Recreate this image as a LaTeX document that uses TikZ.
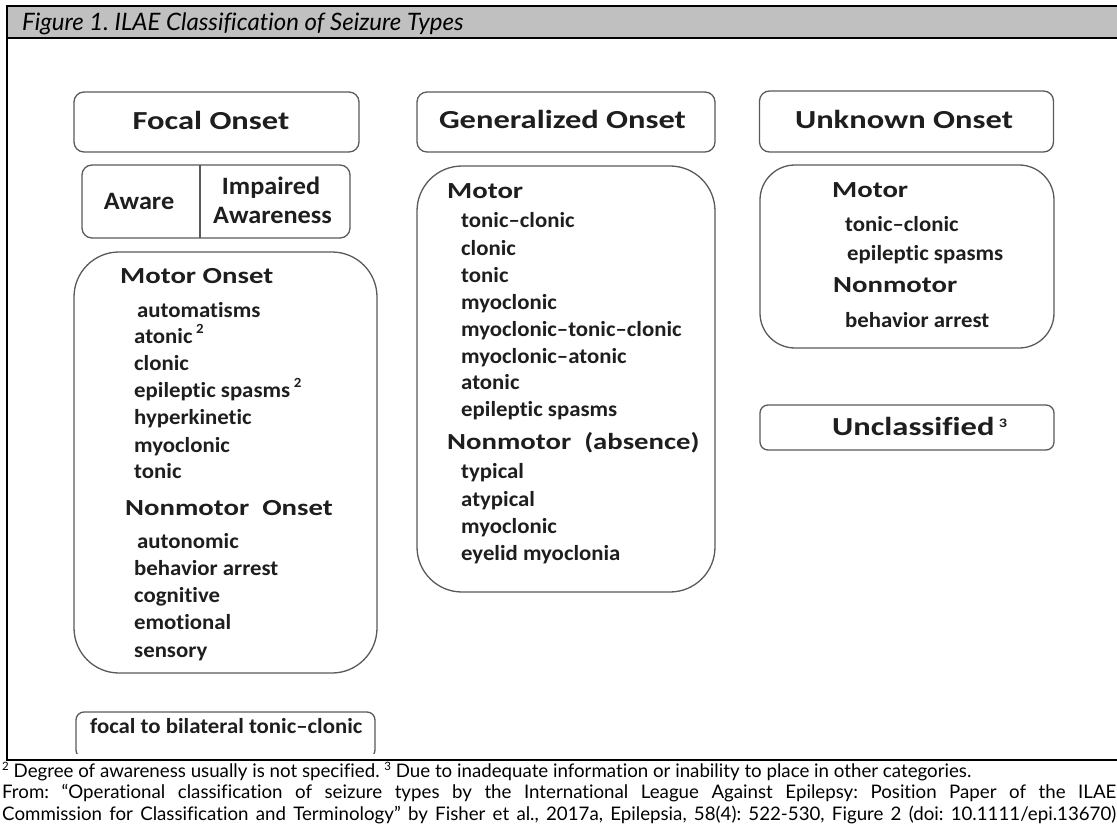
\documentclass[tikz,border=0pt]{standalone}
\usepackage{fontspec}
\setmainfont[Ligatures=NoCommon]{Lato}
\newfontfamily\hfont[FakeStretch=1.25,Ligatures=NoCommon]{Carlito}
\newfontfamily\ifont[FakeStretch=1.06,Ligatures=NoCommon]{Carlito}
\newfontfamily\afont[FakeStretch=1.05,Ligatures=NoCommon]{Carlito}
\definecolor{headgray}{HTML}{C0C0C0}
\definecolor{boxline}{HTML}{5A5A5A}
\definecolor{txt}{HTML}{1E1E1E}
\tikzset{
  box/.style={draw=boxline, line width=1.3pt, fill=white, inner sep=0pt},
  hdr/.style={anchor=base, inner sep=0pt, text=txt, font=\hfont\bfseries\fontsize{26}{30}\selectfont},
  sub/.style={anchor=base west, inner sep=0pt, text=txt, font=\hfont\bfseries\fontsize{23}{27}\selectfont},
  itm/.style={anchor=base west, inner sep=0pt, text=txt, font=\ifont\bfseries\fontsize{21.5}{25}\selectfont},
  aw/.style={anchor=base, inner sep=0pt, text=txt, font=\afont\bfseries\fontsize{25}{29}\selectfont},
  foot/.style={anchor=base west, inner sep=0pt, font=\fontsize{18.7}{22}\selectfont},
  frame/.style={line width=2.5pt, black}
}
\newcommand{\sups}[1]{\raisebox{0.42em}{\fontsize{14}{14}\selectfont #1}}
\newcommand{\supt}[1]{\raisebox{0.3em}{\fontsize{13}{13}\selectfont #1}}
\newcommand{\supf}[1]{\raisebox{0.36em}{\fontsize{11.5}{11.5}\selectfont #1}}
\frenchspacing
\begin{document}
\begin{tikzpicture}[x=1pt,y=-1pt]
\useasboundingbox (0,0) rectangle (1117,832);
% frame
\fill[headgray] (7,6) rectangle (1117,38);
\draw[frame] (5.75,6) -- (1117,6);
\draw[frame] (7,38) -- (1117,38);
\draw[frame] (7,6) -- (7,761.25);
\draw[frame] (5.75,760) -- (1117,760);
\node[anchor=base west, inner sep=0pt, font=\itshape\fontsize{24}{28}\selectfont] (title) at (22,31) {Figure 1. ILAE Classification of Seizure Types};

% header boxes
\node[box, rounded corners=10pt, minimum width=285pt, minimum height=60pt] (focalH) at (216.5,122) {};
\node[box, rounded corners=10pt, minimum width=298pt, minimum height=60pt] (genH) at (566,122) {};
\node[box, rounded corners=10pt, minimum width=294pt, minimum height=61pt] (unkH) at (906.5,121.5) {};
\node[hdr] (focalT) at (211,130) {Focal Onset};
\node[hdr] (genT) at (562.5,129) {Generalized Onset};
\node[hdr] (unkT) at (904,129) {Unknown Onset};

% aware box
\node[box, rounded corners=10pt, minimum width=268pt, minimum height=73pt] (aware) at (216,201.5) {};
\coordinate (dtop) at (200,165);
\coordinate (dbot) at (200,238);
\draw[boxline, line width=1.6pt] (dtop) -- (dbot);
\node[aw] (awT) at (139,209) {Aware};
\node[aw] (impT) at (271,194) {Impaired};
\node[aw] (awnT) at (272.5,223) {Awareness};

% focal content
\node[box, rounded corners=45pt, minimum width=303pt, minimum height=421pt] (focalC) at (225.5,462.5) {};
\node[sub] (fm) at (120,283) {Motor Onset};
\node[itm] (f1) at (137,317) {automatisms};
\node[itm] (f2) at (134,343) {atonic\,\sups{2}};
\node[itm] (f3) at (134,370) {clonic};
\node[itm] (f4) at (134,397) {epileptic spasms\,\sups{2}};
\node[itm] (f5) at (134,424) {hyperkinetic};
\node[itm] (f6) at (134,452) {myoclonic};
\node[itm] (f7) at (134,478) {tonic};
\node[sub] (fn) at (125,515) {Nonmotor\ \ Onset};
\node[itm] (f8) at (137,548) {autonomic};
\node[itm] (f9) at (134,575) {behavior arrest};
\node[itm] (f10) at (134,602) {cognitive};
\node[itm] (f11) at (134,629) {emotional};
\node[itm] (f12) at (134,657) {sensory};

% generalized content
\node[box, rounded corners=45pt, minimum width=298pt, minimum height=426pt] (genC) at (566,379) {};
\node[sub] (gm) at (447,199) {Motor};
\node[itm] (g1) at (461,227) {tonic–clonic};
\node[itm] (g2) at (461,255) {clonic};
\node[itm] (g3) at (461,282) {tonic};
\node[itm] (g4) at (461,309) {myoclonic};
\node[itm] (g5) at (461,336) {myoclonic–tonic–clonic};
\node[itm] (g6) at (461,363) {myoclonic–atonic};
\node[itm] (g7) at (461,389) {atonic};
\node[itm] (g8) at (461,416) {epileptic spasms};
\node[sub] (gn) at (447,449) {Nonmotor\ \ (absence)};
\node[itm] (g9) at (461,478) {typical};
\node[itm] (g10) at (461,506) {atypical};
\node[itm] (g11) at (461,533) {myoclonic};
\node[itm] (g12) at (461,560) {eyelid myoclonia};

% unknown content
\node[box, rounded corners=35pt, minimum width=294pt, minimum height=183pt] (unkC) at (907,256.5) {};
\node[sub] (um) at (832,197) {Motor};
\node[itm] (u1) at (845,231) {tonic–clonic};
\node[itm] (u2) at (847,260) {epileptic spasms};
\node[sub] (un) at (833,292) {Nonmotor};
\node[itm] (u3) at (845,327) {behavior arrest};

% unclassified
\node[box, rounded corners=8pt, minimum width=294pt, minimum height=45pt] (uncl) at (907,427.5) {};
\node[hdr, anchor=base west] (unclT) at (832,435) {Unclassified\,\supt{3}};

% focal to bilateral
\begin{scope}
\clip (0,0) rectangle (1117,753);
\node[box, rounded corners=8pt, minimum width=299pt, minimum height=46pt] (fbtc) at (225.5,735) {};
\end{scope}
\node[itm] (fbtcT) at (90,733) {focal to bilateral tonic–clonic};

% footer
\node[foot] (n1) at (2,777) {\supf{2} Degree of awareness usually is not specified. \supf{3} Due to inadequate information or inability to place in other categories.};
\node[foot] (n2) at (2,798.5) {\makebox[1114pt][s]{From: “Operational classification of seizure types by the International League Against Epilepsy: Position Paper of the ILAE}};
\node[foot] (n3) at (2,820) {\makebox[1114pt][s]{Commission for Classification and Terminology” by Fisher et al., 2017a, Epilepsia, 58(4): 522-530, Figure 2 (doi: 10.1111/epi.13670)}};
\end{tikzpicture}
\end{document}
